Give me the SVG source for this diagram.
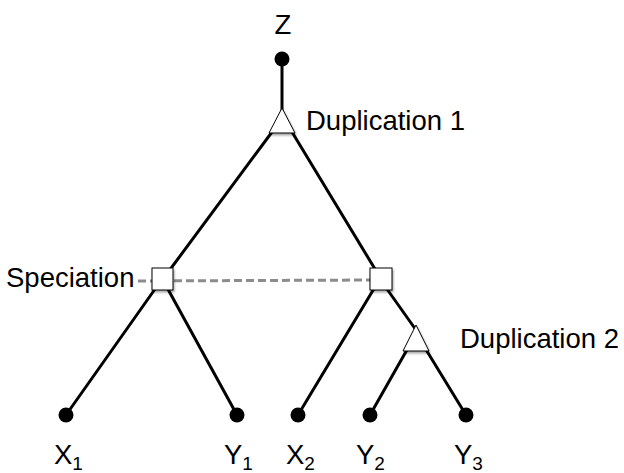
<svg xmlns="http://www.w3.org/2000/svg" width="624" height="473" viewBox="0 0 624 473">
<defs>
<filter id="sh" x="-30%" y="-30%" width="160%" height="160%">
<feDropShadow dx="1" dy="2" stdDeviation="1.2" flood-color="#000" flood-opacity="0.35"/>
</filter>
</defs>
<style>
.edge{stroke:#000;stroke-width:3;fill:none;stroke-linecap:round}
.dash{stroke:#8c8c8c;stroke-width:3;fill:none;stroke-dasharray:8 4}
.leaf{fill:#000}
.dup{fill:#fff;stroke:#000;stroke-width:1;filter:url(#sh)}
.spec{fill:#fff;stroke:#000;stroke-width:1;filter:url(#sh)}
.lbl{font-family:"Liberation Sans",Arial,sans-serif;font-size:27.5px;fill:#000}
.sub{font-size:19px}
</style>
<rect width="624" height="473" fill="#fff"/>
<g id="connectors">
<line class="edge" x1="282" y1="59" x2="282" y2="110"/>
<line class="edge" x1="272" y1="132" x2="166" y2="275"/>
<line class="edge" x1="292" y1="132" x2="378" y2="274"/>
<line class="edge" x1="160" y1="282" x2="66" y2="415"/>
<line class="edge" x1="164" y1="282" x2="237" y2="415"/>
<line class="edge" x1="378" y1="282" x2="298" y2="415"/>
<line class="edge" x1="382" y1="282" x2="416" y2="330"/>
<line class="edge" x1="408" y1="348" x2="370" y2="415"/>
<line class="edge" x1="425" y1="348" x2="466" y2="415"/>
<line class="dash" x1="138" y1="281" x2="372" y2="280"/>
</g>
<g id="Z">
<circle class="leaf" cx="282" cy="59" r="7.5"/>
<text class="lbl" x="283" y="34" text-anchor="middle">Z</text>
</g>
<g id="dup1">
<polygon class="dup" points="282,108 269,133 295,133"/>
<text class="lbl" x="306" y="130">Duplication 1</text>
</g>
<g id="spec1">
<rect class="spec" x="152" y="268" width="21" height="22"/>
<text class="lbl" x="6" y="287">Speciation</text>
</g>
<g id="spec2">
<rect class="spec" x="370" y="268" width="22" height="22"/>
</g>
<g id="dup2">
<polygon class="dup" points="416,325 403,351 429,351"/>
<text class="lbl" x="460" y="348">Duplication 2</text>
</g>
<g id="X1">
<circle class="leaf" cx="66" cy="415" r="7.5"/>
<text class="lbl" x="54" y="464">X<tspan class="sub" dy="6">1</tspan></text>
</g>
<g id="Y1">
<circle class="leaf" cx="237" cy="415" r="7.5"/>
<text class="lbl" x="224" y="464">Y<tspan class="sub" dy="6">1</tspan></text>
</g>
<g id="X2">
<circle class="leaf" cx="298" cy="415" r="7.5"/>
<text class="lbl" x="286" y="464">X<tspan class="sub" dy="6">2</tspan></text>
</g>
<g id="Y2">
<circle class="leaf" cx="370" cy="415" r="7.5"/>
<text class="lbl" x="356" y="464">Y<tspan class="sub" dy="6">2</tspan></text>
</g>
<g id="Y3">
<circle class="leaf" cx="466" cy="415" r="7.5"/>
<text class="lbl" x="454" y="464">Y<tspan class="sub" dy="6">3</tspan></text>
</g>
</svg>
